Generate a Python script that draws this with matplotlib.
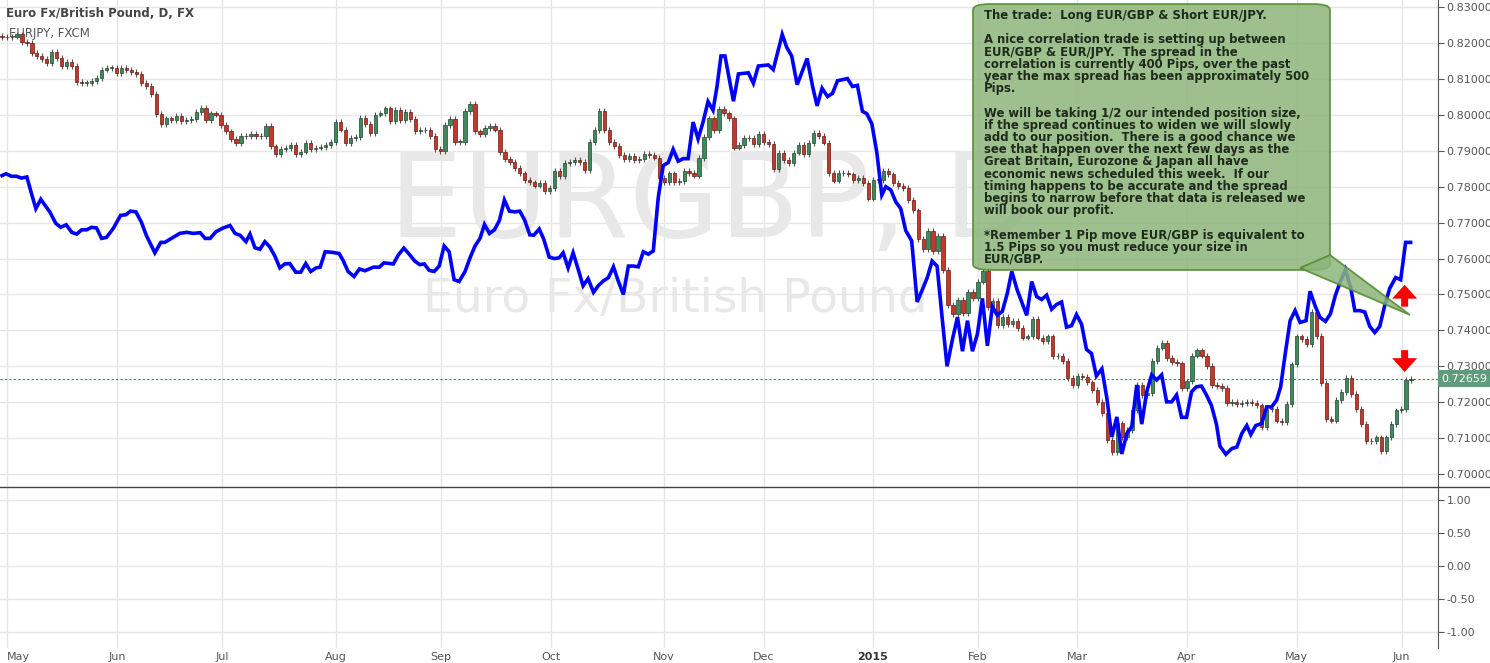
import matplotlib
matplotlib.use("Agg")
import matplotlib.pyplot as plt
import numpy as np
from matplotlib.patches import FancyBboxPatch, Polygon, Rectangle

# EUR/GBP daily closes (May 2014 - Jun 2015)
closes = [
0.8216,0.8216,0.8218,0.8224,0.8202,0.8200,0.8172,0.8164,0.8155,0.8145,0.8176,0.8159,0.8136,0.8148,0.8136,0.8091,0.8089,0.8089,0.8095,0.8103,
0.8126,0.8131,0.8131,0.8117,0.8131,0.8124,0.8120,0.8114,0.8089,0.8081,0.8058,0.8002,0.7975,0.7990,0.7985,0.7996,0.7983,0.7985,0.7988,0.8008,
0.8020,0.7985,0.8004,0.8001,0.7971,0.7954,0.7933,0.7922,0.7941,0.7940,0.7947,0.7941,0.7940,0.7968,0.7912,0.7891,0.7905,0.7908,0.7916,0.7890,
0.7898,0.7922,0.7905,0.7909,0.7911,0.7916,0.7925,0.7980,0.7959,0.7922,0.7935,0.7938,0.7992,0.7974,
0.7949,0.8001,0.8004,0.8018,0.7983,0.8013,0.7985,0.8008,0.7988,0.7954,0.7957,0.7957,0.7942,0.7905,0.7900,0.7971,0.7988,0.7925,0.7925,0.8010,
0.8030,0.7954,0.7947,0.7963,0.7969,0.7959,0.7897,0.7878,0.7869,0.7852,0.7837,0.7818,0.7812,0.7803,0.7810,0.7787,0.7796,0.7843,0.7829,0.7867,
0.7869,0.7874,0.7869,0.7846,0.7925,0.7958,0.8010,0.7958,0.7924,0.7914,0.7889,0.7878,0.7886,0.7873,0.7878,0.7891,0.7888,0.7881,0.7825,0.7812,
0.7837,0.7812,0.7815,0.7843,0.7839,0.7831,0.7880,0.7938,0.7990,0.7957,0.8016,0.8004,0.7990,
0.7909,0.7916,0.7935,0.7935,0.7919,0.7947,0.7925,0.7919,0.7848,0.7895,0.7874,0.7867,0.7895,0.7916,0.7890,0.7921,0.7950,0.7942,0.7923,0.7838,
0.7817,0.7838,0.7838,0.7834,0.7819,0.7824,0.7810,0.7767,0.7819,0.7819,0.7843,0.7834,0.7810,0.7802,0.7796,0.7763,0.7734,0.7654,0.7626,0.7676,
0.7621,0.7664,0.7569,0.7470,0.7446,0.7484,0.7449,0.7506,0.7489,0.7536,0.7564,0.7465,0.7481,0.7415,0.7437,0.7418,0.7427,0.7406,0.7380,0.7383,
0.7432,0.7380,0.7371,0.7383,0.7328,0.7330,0.7314,0.7267,0.7248,0.7272,0.7270,0.7255,
0.7234,0.7201,0.7170,0.7094,0.7062,0.7141,0.7102,0.7122,0.7179,0.7248,0.7220,0.7226,0.7314,0.7352,0.7366,0.7324,0.7311,0.7308,0.7239,0.7258,
0.7330,0.7344,0.7330,0.7300,0.7248,0.7245,0.7239,0.7198,0.7201,0.7196,0.7198,0.7201,0.7198,0.7191,0.7130,0.7182,0.7182,0.7149,0.7144,0.7196,
0.7305,0.7383,0.7377,0.7361,0.7451,0.7385,0.7253,0.7154,0.7149,0.7206,0.7229,0.7267,0.7223,0.7182,0.7139,0.7092,0.7092,0.7102,0.7064,0.7102,
0.7139,0.7177,0.7182,0.7262,0.7266]

# EUR/JPY overlay (scaled to price axis): day index, value
jpy_idx = [0,0.8,1.9,2.9,3.9,5.0,6.0,6.8,7.8,8.6,9.6,10.8,11.8,12.9,14.0,15.0,16.0,17.0,18.0,19.0,20.0,21.0,22.4,23.8,24.9,25.8,26.9,28.0,29.0,30.7,
31.9,32.7,34.4,35.7,37.1,38.4,39.8,40.8,41.8,43.0,44.4,45.8,46.8,47.8,49.0,49.8,50.8,51.8,52.8,53.8,54.8,55.8,56.8,57.8,59.0,60.0,61.0,62.0,63.1,63.9,
64.9,66.5,67.7,68.5,69.5,70.7,71.8,72.9,
74.6,75.8,76.7,78.6,79.6,80.7,81.8,82.9,83.9,84.8,85.8,86.8,87.8,88.8,89.8,90.8,91.8,93.0,94.0,95.0,96.0,96.9,97.9,98.9,99.9,100.9,101.9,103.0,104.0,
105.0,106.0,106.8,107.9,108.8,109.9,110.9,111.9,112.7,113.7,114.7,115.7,116.7,117.7,118.8,119.8,120.8,121.8,122.8,123.8,124.8,125.8,126.8,127.8,128.8,
129.8,130.8,131.8,132.8,133.8,134.8,135.8,136.8,137.8,138.8,139.8,140.8,141.8,142.8,143.6,144.4,145.2,
146.9,147.9,149.9,150.9,151.9,153.9,154.9,156.7,157.6,158.6,159.7,161.7,162.8,163.7,164.7,165.8,166.8,167.8,169.8,170.8,171.8,172.8,173.7,174.7,175.7,
176.7,177.5,178.5,179.5,180.5,181.5,182.7,183.8,184.8,185.8,186.8,187.8,188.8,189.8,190.9,191.9,192.9,193.9,194.9,195.9,196.9,197.9,198.9,199.9,200.9,
201.9,202.8,203.9,204.9,205.8,206.8,207.8,208.8,209.8,210.8,211.8,212.8,213.8,214.8,215.8,216.8,217.8,
218.8,219.8,220.9,221.9,222.9,223.9,224.9,225.9,226.9,227.9,228.9,229.9,230.9,231.9,232.9,233.9,234.9,235.9,236.9,237.9,238.9,239.9,240.9,241.9,242.9,
243.9,244.6,245.8,247.0,248.0,249.0,250.0,250.8,251.8,253.0,254.0,255.0,256.0,256.8,257.7,258.7,259.7,260.7,261.9,262.7,263.7,264.7,265.8,266.8,267.8,
268.8,269.8,270.9,271.7,272.7,273.7,274.7,275.7,276.7,277.7,278.7,279.9,280.9,281.9,282.9]
jpy_val = [0.7831,0.7836,0.7829,0.7829,0.7824,0.7827,0.7777,0.7739,0.7765,0.7749,0.7730,0.7698,0.7687,0.7694,0.7673,0.7668,0.7680,0.7680,0.7687,0.7685,
0.7656,0.7659,0.7685,0.7720,0.7722,0.7732,0.7730,0.7701,0.7664,0.7616,0.7645,0.7645,0.7659,0.7670,0.7673,0.7670,0.7672,0.7656,0.7656,0.7675,0.7685,
0.7692,0.7670,0.7665,0.7647,0.7668,0.7630,0.7626,0.7647,0.7632,0.7607,0.7574,0.7585,0.7586,0.7562,0.7562,0.7586,0.7564,0.7574,0.7576,0.7619,0.7617,
0.7614,0.7595,0.7564,0.7550,0.7571,0.7566,
0.7576,0.7576,0.7588,0.7585,0.7610,0.7629,0.7612,0.7593,0.7583,0.7585,0.7567,0.7564,0.7579,0.7635,0.7619,0.7541,0.7536,0.7564,0.7602,0.7635,0.7656,
0.7695,0.7670,0.7680,0.7706,0.7763,0.7732,0.7730,0.7732,0.7706,0.7666,0.7665,0.7682,0.7654,0.7604,0.7600,0.7602,0.7616,0.7574,0.7616,0.7571,0.7524,
0.7544,0.7506,0.7525,0.7538,0.7547,0.7577,0.7536,0.7500,0.7579,0.7579,0.7577,0.7619,0.7612,0.7621,0.7770,0.7859,0.7867,0.7904,0.7871,0.7878,0.7878,
0.7980,0.7933,0.7980,0.8037,0.8013,0.8079,0.8164,0.8164,
0.8038,0.8114,0.8117,0.8088,0.8136,0.8139,0.8126,0.8224,0.8188,0.8164,0.8084,0.8157,0.8079,0.8025,0.8074,0.8051,0.8060,0.8095,0.8101,0.8079,0.8082,
0.8010,0.8003,0.7975,0.7895,0.7777,0.7800,0.7791,0.7758,0.7739,0.7678,0.7649,0.7479,0.7512,0.7546,0.7593,0.7579,0.7437,0.7300,0.7376,0.7437,0.7342,
0.7427,0.7342,0.7390,0.7489,0.7357,0.7466,0.7442,0.7453,0.7503,0.7564,0.7512,0.7475,0.7442,0.7536,0.7494,0.7486,0.7498,0.7459,0.7472,0.7479,0.7409,
0.7413,0.7444,0.7418,0.7347,
0.7336,0.7273,0.7293,0.7211,0.7103,0.7159,0.7056,0.7113,0.7132,0.7248,0.7139,0.7229,0.7276,0.7262,0.7276,0.7201,0.7201,0.7220,0.7158,0.7158,0.7229,
0.7243,0.7245,0.7220,0.7191,0.7139,0.7078,0.7055,0.7071,0.7075,0.7113,0.7135,0.7110,0.7135,0.7141,0.7187,0.7187,0.7206,0.7243,0.7333,0.7427,0.7455,
0.7422,0.7427,0.7509,0.7469,0.7436,0.7425,0.7446,0.7498,0.7536,0.7569,0.7517,0.7455,0.7455,0.7451,0.7411,0.7394,0.7411,0.7469,0.7517,0.7547,0.7541,
0.7645,0.7645]

month_pos = [1.0, 23.1, 44.2, 67.1, 88.2, 110.2, 132.9, 153.0, 174.9, 196.0, 215.9, 237.9, 260.0, 281.1]
month_lbl = ["May","Jun","Jul","Aug","Sep","Oct","Nov","Dec","2015","Feb","Mar","Apr","May","Jun"]
price_ticks = [0.70,0.71,0.72,0.73,0.74,0.75,0.76,0.77,0.78,0.79,0.80,0.81,0.82,0.83]
last_price = 0.72659
osc_ticks = [1.0,0.5,0.0,-0.5,-1.0]

note = ("The trade:  Long EUR/GBP & Short EUR/JPY.\n\n"
"A nice correlation trade is setting up between\nEUR/GBP & EUR/JPY.  The spread in the\n"
"correlation is currently 400 Pips, over the past\nyear the max spread has been approximately 500\nPips.\n\n"
"We will be taking 1/2 our intended position size,\nif the spread continues to widen we will slowly\n"
"add to our position.  There is a good chance we\nsee that happen over the next few days as the\n"
"Great Britain, Eurozone & Japan all have\neconomic news scheduled this week.  If our\n"
"timing happens to be accurate and the spread\nbegins to narrow before that data is released we\nwill book our profit.\n\n"
"*Remember 1 Pip move EUR/GBP is equivalent to\n1.5 Pips so you must reduce your size in\nEUR/GBP.")

fig = plt.figure(figsize=(14.9, 6.63), dpi=100)
ax = fig.add_axes([0, 0.2655, 0.9651, 0.7345])
ax2 = fig.add_axes([0, 0.0226, 0.9651, 0.2429])
GRID = "#e6e6e6"
xl = (-0.4, 288.4)

ax.set_xlim(*xl); ax.set_ylim(0.6964, 0.83198)
for p in price_ticks:
    ax.axhline(p, color=GRID, lw=1, zorder=0)
for m in month_pos:
    ax.axvline(m, color=GRID, lw=1, zorder=0)
    ax2.axvline(m, color=GRID, lw=1, zorder=0)

# watermark
ax.text(0.495, 0.58, "EURGBP, D", transform=ax.transAxes, fontsize=84, color="#e8e8e8",
        ha="center", va="center", zorder=0.5)
ax.text(0.47, 0.385, "Euro Fx/British Pound", transform=ax.transAxes, fontsize=34, color="#e8e8e8",
        ha="center", va="center", zorder=0.5)

opens = [closes[0] + 0.0003] + closes[:-1]
for i, (o, c) in enumerate(zip(opens, closes)):
    hi = max(o, c) + 0.0008; lo = min(o, c) - 0.0008
    up = c >= o
    ax.vlines(i, lo, hi, color="#555555", lw=0.8, zorder=2)
    h = max(abs(c - o), 0.00012)
    ax.add_patch(Rectangle((i - 0.33, min(o, c)), 0.66, h,
                           facecolor="#3f8a5c" if up else "#c0392b",
                           edgecolor="#23452f" if up else "#6b1a14", lw=0.5, zorder=3))

ax.plot(jpy_idx, jpy_val, color="#0000ff", lw=2.6, zorder=4, solid_joinstyle="miter")
ax.axhline(last_price, color="#4a7f5e", lw=0.8, ls=(0, (2, 2)), zorder=1)

ax.yaxis.tick_right()
ax.set_yticks(price_ticks)
ax.set_yticklabels([f"{p:.5f}" for p in price_ticks], fontsize=8, color="#555555")
ax.tick_params(axis="y", length=4, color="#555555", pad=2)
ax.set_xticks([])
for s in ["top", "left", "bottom"]:
    ax.spines[s].set_visible(False)
ax.spines["right"].set_color("#555555")

ax.text(1.002, last_price, "0.72659", transform=ax.get_yaxis_transform(), fontsize=8,
        color="white", va="center", ha="left",
        bbox=dict(boxstyle="square,pad=0.3", fc="#5e9d7c", ec="none"), clip_on=False, zorder=6)

ax.text(0.004, 0.985, "Euro Fx/British Pound, D, FX", transform=ax.transAxes, fontsize=8.5,
        color="#444444", fontweight="bold", va="top")
ax.text(0.006, 0.945, "EURJPY, FXCM", transform=ax.transAxes, fontsize=8.5, color="#555555", va="top")

# callout
T = ax.transAxes
box = FancyBboxPatch((973/1438, 1-270/487), (1330-973)/1438, 266/487,
                     boxstyle="round,pad=0,rounding_size=0.012", transform=T,
                     fc="#8db57a", ec="#4f8a2c", lw=1.3, alpha=0.85, zorder=7)
ax.add_patch(box)
tail = Polygon([(1300/1438, 1-268/487), (1330/1438, 1-255/487), (1410/1438, 1-315/487)],
               closed=True, transform=T, fc="#8db57a", ec="#4f8a2c", lw=1.3, alpha=0.85, zorder=7)
ax.add_patch(tail)
ax.text(984/1438, 1-9/487, note, transform=T, fontsize=8.4, fontweight="bold",
        color="#1e2a1a", va="top", ha="left", linespacing=0.92, zorder=8)

# arrows
arr = dict(width=5, headwidth=18, headlength=10, color="red", lw=0)
ax.annotate("", xy=(281.7, 0.7527), xytext=(281.7, 0.7466), arrowprops=arr, zorder=9)
ax.annotate("", xy=(281.7, 0.7284), xytext=(281.7, 0.7345), arrowprops=arr, zorder=9)

# lower panel
ax2.set_xlim(*xl); ax2.set_ylim(-1.24, 1.19)
for t in osc_ticks:
    ax2.axhline(t, color=GRID, lw=1, zorder=0)
ax2.yaxis.tick_right()
ax2.set_yticks(osc_ticks)
ax2.set_yticklabels([f"{t:.2f}" for t in osc_ticks], fontsize=8, color="#555555")
ax2.tick_params(axis="y", length=4, color="#555555", pad=2)
ax2.set_xticks(month_pos)
ax2.set_xticklabels(month_lbl, fontsize=8, color="#555555")
ax2.tick_params(axis="x", length=0, pad=3)
for lab in ax2.get_xticklabels():
    if lab.get_text() == "2015":
        lab.set_fontweight("bold"); lab.set_color("#333333")
ax2.get_xticklabels()[0].set_ha("left")
for s in ["top", "left", "bottom"]:
    ax2.spines[s].set_visible(False)
ax2.spines["right"].set_color("#555555")

fig.add_artist(plt.Line2D([0, 1], [0.2655, 0.2655], transform=fig.transFigure,
                          color="#444444", lw=1, zorder=10))

fig.savefig("out.png", dpi=100)
